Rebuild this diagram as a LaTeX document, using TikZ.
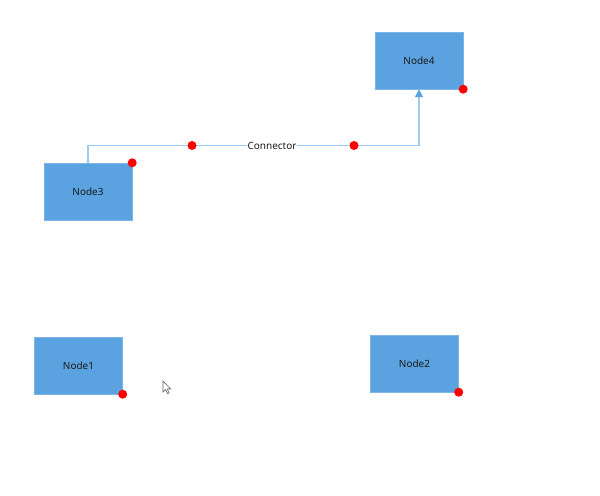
\documentclass[tikz,border=0pt]{standalone}
\usepackage{fontspec}
\setmainfont{Noto Sans}
\usetikzlibrary{arrows.meta}
\definecolor{nodeblue}{HTML}{5BA3E0}
\definecolor{linkblue}{HTML}{9DCBF2}
\definecolor{txt}{HTML}{1A1A1A}
\tikzset{
  blk/.style={rectangle, fill=nodeblue, draw=nodeblue!80!white, line width=0.4bp, minimum width=88bp, minimum height=57bp, inner sep=0pt, text=txt, font=\fontsize{10}{12}\selectfont},
  handle/.style={circle, fill=red, minimum size=9bp, inner sep=0pt},
  conn/.style={draw=linkblue, line width=1.4bp, -{Triangle[length=8bp,width=8bp,fill=nodeblue,color=nodeblue]}},
  lbl/.style={fill=white, inner sep=0.5bp, text=txt, font=\fontsize{10}{12}\selectfont}
}
\begin{document}
\begin{tikzpicture}[x=1bp,y=-1bp]
\useasboundingbox[fill=white] (0,0) rectangle (600,496);
\node[blk] (n4) at (419,60.5) {Node4};
\node[blk] (n3) at (88,191.5) {Node3};
\node[blk] (n1) at (78.5,365.5) {Node1};
\node[blk] (n2) at (414.5,363.5) {Node2};
\coordinate (bend) at (419,145.5);
\draw[conn] (n3.north) |- (bend) -- (n4.south);
\node[lbl] (clbl) at (272,146) {Connector};
\node[handle] (h1) at (192,145.5) {};
\node[handle] (h2) at (354,145.5) {};
\node[handle] (d4) at (n4.south east) {};
\node[handle] (d3) at (n3.north east) {};
\node[handle] (d1) at (n1.south east) {};
\node[handle] (d2) at (n2.south east) {};
\draw[fill=white, draw=black!60, line width=0.6bp, line join=miter]
  (163,381) -- (163,392) -- (165.6,389.6) -- (167.6,393.6) -- (169.2,392.9) -- (167.3,389) -- (170.6,389) -- cycle;
\end{tikzpicture}
\end{document}
